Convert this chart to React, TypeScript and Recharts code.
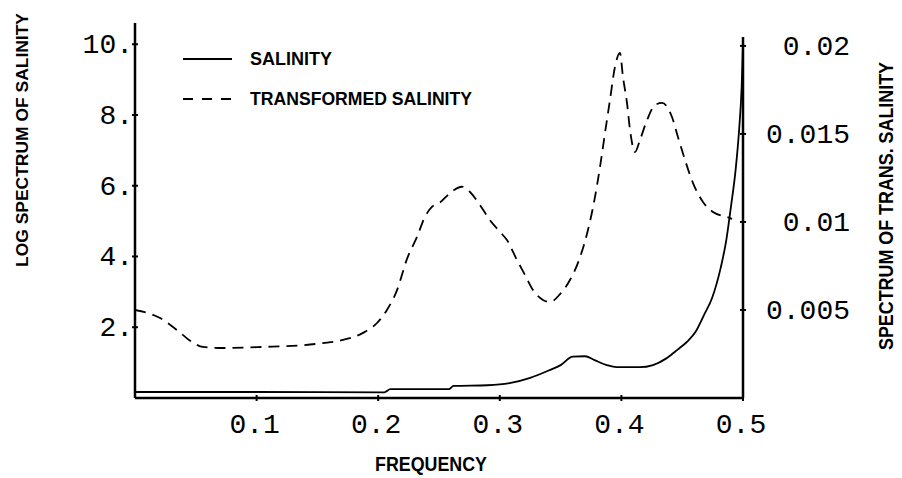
import React from 'react';
import { LineChart, Line, XAxis, YAxis, Legend, Label, ReferenceLine } from 'recharts';

// Frequency grid and log spectrum of salinity (left axis)
const salinityFreq = [0, 0.1, 0.205, 0.21, 0.258, 0.262, 0.29, 0.308, 0.325, 0.341, 0.35, 0.36, 0.37, 0.378, 0.388, 0.396, 0.415, 0.426, 0.437, 0.446, 0.454, 0.461, 0.468, 0.4745, 0.4816, 0.4863, 0.4901, 0.4939, 0.4968, 0.4989, 0.5];
const salinityValues = [0.17, 0.17, 0.16, 0.25, 0.25, 0.34, 0.36, 0.42, 0.57, 0.79, 0.93, 1.17, 1.18, 1.07, 0.93, 0.87, 0.87, 0.93, 1.12, 1.36, 1.59, 1.87, 2.35, 2.82, 3.67, 4.47, 5.41, 6.44, 7.58, 8.8, 10.0];

// Spectrum of transformed salinity (right axis)
const transformedFreq = [0, 0.0206, 0.0345, 0.0469, 0.0559, 0.0724, 0.1053, 0.1382, 0.1546, 0.1711, 0.1875, 0.199, 0.2072, 0.2155, 0.2237, 0.2319, 0.2385, 0.2442, 0.2508, 0.259, 0.2689, 0.2755, 0.2837, 0.2919, 0.3002, 0.3059, 0.3141, 0.3207, 0.3273, 0.3355, 0.3413, 0.3495, 0.3577, 0.366, 0.3725, 0.3783, 0.3824, 0.3865, 0.3906, 0.3947, 0.3988, 0.4013, 0.4046, 0.4071, 0.4112, 0.4153, 0.4211, 0.4276, 0.4334, 0.4416, 0.4465, 0.4523, 0.4589, 0.4671, 0.4753, 0.4868, 0.491];
const transformedValues = [0.005, 0.00454, 0.00386, 0.00318, 0.0029, 0.00284, 0.0029, 0.003, 0.00312, 0.0033, 0.0037, 0.00426, 0.005, 0.00613, 0.0079, 0.00915, 0.0103, 0.01085, 0.0111, 0.01164, 0.012, 0.0117, 0.01096, 0.0101, 0.00943, 0.00897, 0.00784, 0.00699, 0.00613, 0.00557, 0.00545, 0.0059, 0.0067, 0.008, 0.00954, 0.01142, 0.01312, 0.01505, 0.01693, 0.0188, 0.0196, 0.01823, 0.01676, 0.01522, 0.01397, 0.01466, 0.01579, 0.01664, 0.01676, 0.01596, 0.01483, 0.01352, 0.01221, 0.01113, 0.01057, 0.01028, 0.01017];

const xTicks = [0.1, 0.2, 0.3, 0.4, 0.5];
const xTickLabels = ['0.1', '0.2', '0.3', '0.4', '0.5'];
const leftTicks = [2, 4, 6, 8, 10];
const leftTickLabels = ['2.', '4.', '6.', '8.', '10.'];
const rightTicks = [0.005, 0.01, 0.015, 0.02];
const rightTickLabels = ['0.005', '0.01', '0.015', '0.02'];

const seriesNames = ['SALINITY', 'TRANSFORMED SALINITY'];
const axisTitles = { x: 'FREQUENCY', left: 'LOG SPECTRUM OF SALINITY', right: 'SPECTRUM OF TRANS. SALINITY' };

const salinityData = salinityFreq.map((f, i) => ({ f, v: salinityValues[i] }));
const transformedData = transformedFreq.map((f, i) => ({ f, v: transformedValues[i] }));

const MONO = '"Liberation Mono", "DejaVu Sans Mono", monospace';
const SANS = '"Liberation Sans", Arial, sans-serif';

const findLabel = (ticks: number[], labels: string[], value: number) => {
  let best = 0;
  ticks.forEach((t, i) => {
    if (Math.abs(t - value) < Math.abs(ticks[best] - value)) best = i;
  });
  return labels[best];
};

const XTick = (props: any) => {
  const { x, y, payload } = props;
  return (
    <g>
      <line x1={x} x2={x} y1={y - 3} y2={y + 3} stroke="#000" strokeWidth={2} />
      <text x={x - 2} y={y + 35} textAnchor="middle" fontFamily={MONO} fontSize={28} fill="#000">
        {findLabel(xTicks, xTickLabels, payload.value)}
      </text>
    </g>
  );
};

const LeftTick = (props: any) => {
  const { x, y, payload } = props;
  return (
    <g>
      <line x1={x - 3} x2={x + 3} y1={y} y2={y} stroke="#000" strokeWidth={2} />
      <text x={x - 2} y={y + 9} textAnchor="end" fontFamily={MONO} fontSize={28} fill="#000">
        {findLabel(leftTicks, leftTickLabels, payload.value)}
      </text>
    </g>
  );
};

const RightTick = (props: any) => {
  const { x, y, payload } = props;
  return (
    <g>
      <line x1={x - 3} x2={x + 3} y1={y} y2={y} stroke="#000" strokeWidth={2} />
      <text x={x + 107} y={y + 9} textAnchor="end" fontFamily={MONO} fontSize={28} fill="#000">
        {findLabel(rightTicks, rightTickLabels, payload.value)}
      </text>
    </g>
  );
};

const LegendContent = () => (
  <svg width={320} height={80} style={{ display: 'block' }}>
    <line x1={5} x2={54} y1={16} y2={16} stroke="#000" strokeWidth={1.8} />
    <text x={72} y={22} fontFamily={SANS} fontWeight="bold" fontSize={19} fill="#000" textLength={82} lengthAdjust="spacingAndGlyphs">{seriesNames[0]}</text>
    <line x1={5} x2={54} y1={56} y2={56} stroke="#000" strokeWidth={1.8} strokeDasharray="10 9" />
    <text x={72} y={62} fontFamily={SANS} fontWeight="bold" fontSize={19} fill="#000" textLength={222} lengthAdjust="spacingAndGlyphs">{seriesNames[1]}</text>
  </svg>
);

export default function App() {
  return (
    <LineChart width={894} height={470} margin={{ top: 15, right: 0, bottom: 0, left: 0 }}>
      <XAxis
        dataKey="f"
        type="number"
        domain={[0, 0.5]}
        ticks={xTicks}
        allowDataOverflow
        height={80}
        tickSize={0}
        tickMargin={0}
        tickLine={false}
        tick={<XTick />}
        axisLine={{ stroke: '#000', strokeWidth: 2.5 }}
      >
        <Label
          content={() => (
            <text x={367} y={463} fontFamily={SANS} fontWeight="bold" fontSize={20} fill="#000" textLength={112} lengthAdjust="spacingAndGlyphs">
              {axisTitles.x}
            </text>
          )}
        />
      </XAxis>
      <YAxis
        yAxisId="left"
        orientation="left"
        type="number"
        domain={[0, 10.6]}
        ticks={leftTicks}
        allowDataOverflow
        width={127}
        tickSize={0}
        tickMargin={0}
        tickLine={false}
        tick={<LeftTick />}
        axisLine={{ stroke: '#000', strokeWidth: 2.5 }}
      >
        <Label
          content={() => (
            <text x={20} y={259} transform="rotate(-90 20 259)" fontFamily={SANS} fontWeight="bold" fontSize={17} fill="#000" textLength={254} lengthAdjust="spacingAndGlyphs">
              {axisTitles.left}
            </text>
          )}
        />
      </YAxis>
      <YAxis
        yAxisId="right"
        orientation="right"
        type="number"
        domain={[0, 0.0213]}
        ticks={rightTicks}
        allowDataOverflow
        width={159}
        tickSize={0}
        tickMargin={0}
        tickLine={false}
        tick={<RightTick />}
        axisLine={false}
      >
        <Label
          content={() => (
            <text x={885} y={342} transform="rotate(-90 885 342)" fontFamily={SANS} fontWeight="bold" fontSize={20} fill="#000" textLength={288} lengthAdjust="spacingAndGlyphs">
              {axisTitles.right}
            </text>
          )}
        />
      </YAxis>
      <ReferenceLine
        yAxisId="right"
        segment={[{ x: 0.5, y: 0 }, { x: 0.5, y: 0.0205 }]}
        stroke="#000"
        strokeWidth={2.5}
        ifOverflow="visible"
      />
      <Legend
        layout="horizontal"
        verticalAlign="middle"
        align="center"
        content={<LegendContent />}
        wrapperStyle={{ position: 'absolute', left: 170, top: 35, width: 320, height: 80 }}
      />
      <Line
        yAxisId="right"
        data={transformedData}
        dataKey="v"
        type="monotone"
        stroke="#000"
        strokeWidth={1.8}
        strokeDasharray="11 7"
        dot={false}
        activeDot={false}
        isAnimationActive={false}
      />
      <Line
        yAxisId="left"
        data={salinityData}
        dataKey="v"
        type="monotone"
        stroke="#000"
        strokeWidth={1.8}
        dot={false}
        activeDot={false}
        isAnimationActive={false}
      />
    </LineChart>
  );
}
